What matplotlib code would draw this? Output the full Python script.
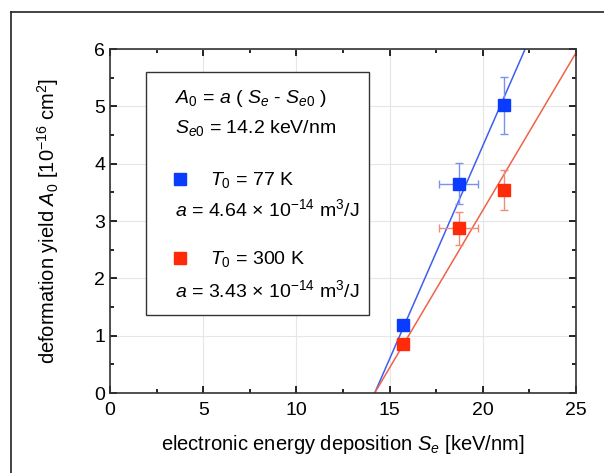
"""Deformation yield vs electronic energy deposition."""

import numpy as np
import matplotlib
matplotlib.use("Agg")
import matplotlib.pyplot as plt
from matplotlib.lines import Line2D

plt.rcParams["font.family"] = ["Liberation Sans", "DejaVu Sans"]
plt.rcParams["mathtext.fontset"] = "custom"
plt.rcParams["mathtext.rm"] = "Liberation Sans"
plt.rcParams["mathtext.it"] = "Liberation Sans:italic"

# data
se_77 = [15.7, 18.7, 21.15]
a0_77 = [1.18, 3.65, 5.02]
xerr_77 = [0.0, 1.05, 0.0]
yerr_77 = [0.08, 0.36, 0.5]

se_300 = [15.7, 18.7, 21.15]
a0_300 = [0.86, 2.87, 3.54]
xerr_300 = [0.0, 1.05, 0.0]
yerr_300 = [0.05, 0.29, 0.35]

se0 = 14.2                      # keV/nm
a_77 = 4.64e-14                 # m^3/J
a_300 = 3.43e-14
kev_per_nm = 1.602e-16 / 1e-9   # J/m
unit_a0 = 1e-20                 # 1e-16 cm^2 in m^2

fig = plt.figure(figsize=(6.04, 4.73), dpi=100)
ax = fig.add_axes([110 / 604, 1 - 393 / 473, 466 / 604, 344 / 473])

# outer frame (left and top only visible)
fig.add_artist(Line2D([11 / 604, 11 / 604], [0, 1 - 12 / 473],
                      transform=fig.transFigure, color="#222222", lw=1.2))
fig.add_artist(Line2D([11 / 604, 1], [1 - 12 / 473, 1 - 12 / 473],
                      transform=fig.transFigure, color="#222222", lw=1.2))

# fit lines
xs = np.linspace(se0, 25, 100)
for a, col in [(a_77, "#3d5ef0"), (a_300, "#f0624a")]:
    slope = a * kev_per_nm / unit_a0
    ax.plot(xs, slope * (xs - se0), color=col, lw=1.1, zorder=2)

# data with error bars
ax.errorbar(se_77, a0_77, xerr=xerr_77, yerr=yerr_77, fmt="none",
            ecolor="#7b90f0", elinewidth=1.0, capsize=3, zorder=3)
ax.plot(se_77, a0_77, "s", color="#0a3cff", ms=8, zorder=4)
ax.errorbar(se_300, a0_300, xerr=xerr_300, yerr=yerr_300, fmt="none",
            ecolor="#f08a7a", elinewidth=1.0, capsize=3, zorder=3)
ax.plot(se_300, a0_300, "s", color="#ff2a0a", ms=8, zorder=4)

ax.set_xlim(0, 25)
ax.set_ylim(0, 6)
ax.set_xticks(np.arange(0, 26, 5))
ax.set_xticks(np.arange(0, 25.1, 2.5), minor=True)
ax.set_yticks(np.arange(0, 7, 1))
ax.set_yticks(np.arange(0, 6.1, 0.5), minor=True)
ax.tick_params(which="both", direction="in", top=True, right=True,
               labelsize=14, width=1.2)
ax.tick_params(which="major", length=5)
ax.tick_params(which="minor", length=3)
ax.tick_params(axis="x", pad=6.5)
ax.grid(which="major", color="#e6e6e6", lw=0.8)
ax.set_axisbelow(True)
for sp in ax.spines.values():
    sp.set_linewidth(1.2)
    sp.set_color("#333333")

ax.set_xlabel(r"electronic energy deposition $S_e$ [keV/nm]", fontsize=14.5,
              labelpad=10)
ax.set_ylabel(r"deformation yield $A_0$ [10$^{-16}$ cm$^2$]", fontsize=14.5,
              labelpad=24)

# legend box
ax.add_patch(plt.Rectangle((1.93, 1.36), 11.96, 4.24, fill=True,
                           facecolor="white", edgecolor="#333333", lw=1.0,
                           zorder=5))
fs = 14
x_txt = 3.49
ax.text(x_txt, 5.13, r"$A_0$ = $a$ ( $S_e$ - $S_{e0}$ )", fontsize=fs,
        va="center", zorder=6)
ax.text(x_txt, 4.62, r"$S_{e0}$ = 14.2 keV/nm", fontsize=fs, va="center",
        zorder=6)
ax.plot([3.76], [3.74], "s", color="#0a3cff", ms=8, zorder=6)
ax.text(5.36, 3.72, r"$T_0$ = 77 K", fontsize=fs, va="center", zorder=6)
ax.text(x_txt, 3.2, r"$a$ = 4.64 × 10$^{-14}$ m$^3$/J", fontsize=fs,
        va="center", zorder=6)
ax.plot([3.76], [2.35], "s", color="#ff2a0a", ms=8, zorder=6)
ax.text(5.36, 2.33, r"$T_0$ = 300 K", fontsize=fs, va="center", zorder=6)
ax.text(x_txt, 1.8, r"$a$ = 3.43 × 10$^{-14}$ m$^3$/J", fontsize=fs,
        va="center", zorder=6)

fig.savefig("out.png", dpi=100)
plt.close(fig)
